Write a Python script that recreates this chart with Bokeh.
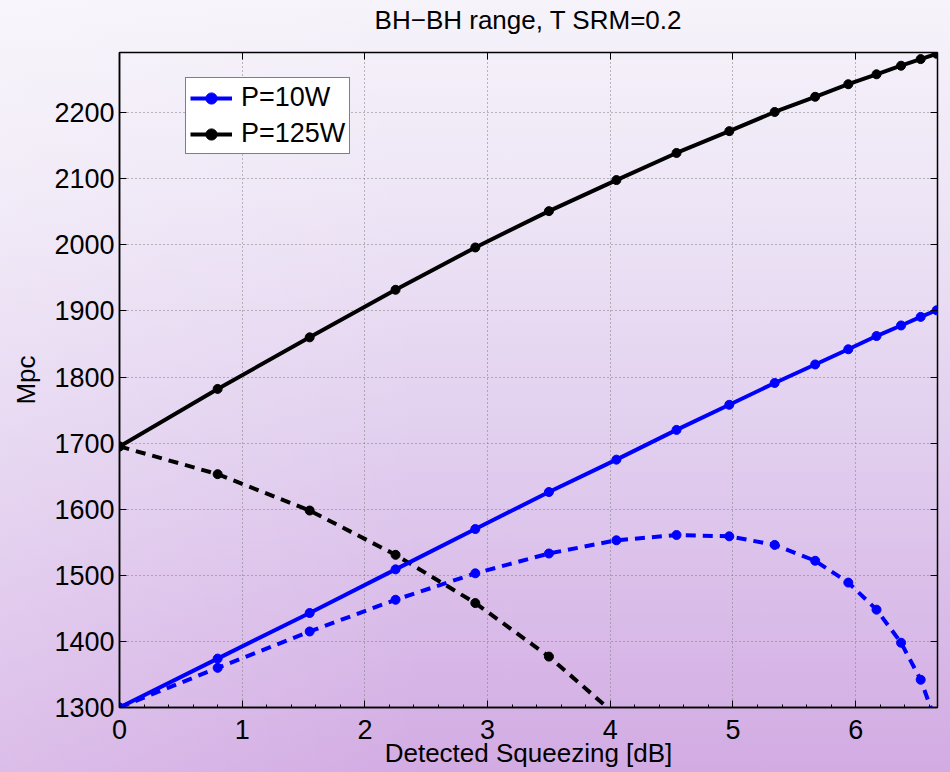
from bokeh.plotting import figure
from bokeh.models import (LinearAxis, FixedTicker, Legend, LegendItem, Range1d,
                          GlobalInlineStyleSheet, CustomJSTickFormatter)
from bokeh.embed import file_html
from bokeh.resources import INLINE
import numpy as np

# ---- data ----
squeezing_db = [0.0, 0.80, 1.55, 2.25, 2.90, 3.50, 4.05, 4.54, 4.97, 5.34,
                5.67, 5.94, 6.17, 6.37, 6.53, 6.66]
p10_solid = [1300, 1374, 1443, 1509, 1570, 1626, 1675, 1720, 1758, 1791,
             1819, 1842, 1862, 1878, 1891, 1901]
p10_dashed = [1300, 1360, 1415, 1463, 1503, 1533, 1553, 1561, 1559, 1546,
              1522, 1489, 1448, 1398, 1342, 1275]
p125_solid = [1695, 1782, 1860, 1932, 1996, 2051, 2098, 2139, 2172, 2201,
              2224, 2243, 2258, 2271, 2281, 2289]
p125_dashed = [1695, 1653, 1598, 1531, 1458, 1377, 1288]
x_ticks = [0, 1, 2, 3, 4, 5, 6]
y_ticks = [1300, 1400, 1500, 1600, 1700, 1800, 1900, 2000, 2100, 2200]
title_text = "BH\u2212BH range, T SRM=0.2"

FONT = "Liberation Sans"
FS = "27px"

bg_css = GlobalInlineStyleSheet(css="""
html { min-height: 100%;
  background:
    linear-gradient(to right, rgba(255,255,255,0.22) 0%, rgba(255,255,255,0) 45%),
    linear-gradient(to bottom, #f6f3fa 0%, #eee6f6 25%, #e2d0ef 55%, #d2abe3 100%);
}
body { background: transparent; }
""")

p = figure(width=946, height=770,
           x_range=Range1d(0, 6.667), y_range=Range1d(1300, 2291),
           output_backend="svg", toolbar_location=None,
           min_border_left=119, min_border_right=9,
           min_border_top=52, min_border_bottom=63,
           border_fill_color=None, background_fill_color=None,
           outline_line_color="black", outline_line_width=1.5,
           stylesheets=[bg_css])

# axes
for ax in (p.xaxis[0], p.yaxis[0]):
    ax.major_label_text_font = FONT
    ax.major_label_text_font_size = FS
    ax.major_label_text_color = "black"
    ax.axis_label_text_font = FONT
    ax.axis_label_text_font_size = "26px"
    ax.axis_label_text_font_style = "normal"
    ax.axis_label_text_color = "black"
    ax.major_tick_in = 7
    ax.major_tick_out = 0
    ax.minor_tick_out = 0
    ax.axis_line_color = "black"
    ax.axis_line_width = 1.5

p.xaxis[0].ticker = FixedTicker(ticks=x_ticks,
                                minor_ticks=list(np.round(np.arange(0, 6.7, 0.2), 2)))
p.xaxis[0].minor_tick_in = 3
p.yaxis[0].ticker = FixedTicker(ticks=y_ticks)
p.yaxis[0].minor_tick_in = 0
p.xaxis[0].axis_label = "Detected Squeezing [dB]"
p.yaxis[0].axis_label = "Mpc"
p.xaxis[0].major_label_standoff = 12
p.xaxis[0].axis_label_standoff = -4
p.yaxis[0].major_label_standoff = 5
p.yaxis[0].axis_label_standoff = 10

# grid
for g in (p.xgrid[0], p.ygrid[0]):
    g.grid_line_color = "#7a7a7a"
    g.grid_line_dash = "1 3"
    g.grid_line_width = 1
p.xgrid[0].ticker = FixedTicker(ticks=x_ticks)
p.ygrid[0].ticker = FixedTicker(ticks=y_ticks)

# right / top tick-only axes (the top one carries the chart title)
blank = CustomJSTickFormatter(code="return ''")
rax = LinearAxis(ticker=FixedTicker(ticks=y_ticks), formatter=blank,
                 major_tick_in=7, major_tick_out=0, minor_tick_in=0, minor_tick_out=0,
                 major_label_standoff=0, axis_line_color=None)
tax = LinearAxis(ticker=FixedTicker(ticks=x_ticks), formatter=blank,
                 major_tick_in=7, major_tick_out=0, minor_tick_in=0, minor_tick_out=0,
                 major_label_standoff=0, axis_line_color=None,
                 axis_label=title_text, axis_label_text_font=FONT,
                 axis_label_text_font_size="26px", axis_label_text_font_style="normal",
                 axis_label_text_color="black", axis_label_standoff=18)
p.add_layout(rax, "right")
p.add_layout(tax, "above")

# series
LW = 4
MS = 9
n125d = len(p125_dashed)
r_bd = p.line(squeezing_db, p10_dashed, line_color="#0000ff", line_width=LW, line_dash="10 7")
s_bd = p.scatter(squeezing_db, p10_dashed, size=MS, marker="circle", color="#0000ff")
r_kd = p.line(squeezing_db[:n125d], p125_dashed, line_color="black", line_width=LW, line_dash="10 7")
s_kd = p.scatter(squeezing_db[:n125d], p125_dashed, size=MS, marker="circle", color="black")
r_b = p.line(squeezing_db, p10_solid, line_color="#0000ff", line_width=LW)
s_b = p.scatter(squeezing_db, p10_solid, size=MS, marker="circle", color="#0000ff")
r_k = p.line(squeezing_db, p125_solid, line_color="black", line_width=LW)
s_k = p.scatter(squeezing_db, p125_solid, size=MS, marker="circle", color="black")

legend = Legend(items=[LegendItem(label="P=10W", renderers=[r_b, s_b]),
                       LegendItem(label="P=125W", renderers=[r_k, s_k])],
                location=(66, 553),
                label_text_font=FONT, label_text_font_size="27px",
                label_text_color="black",
                glyph_width=42, glyph_height=28, label_height=28,
                label_standoff=9, spacing=5, padding=4, margin=0,
                border_line_color="black", border_line_width=1.5,
                background_fill_color="white", background_fill_alpha=1)
p.add_layout(legend)

open("out.html", "w").write(file_html(p, INLINE))
